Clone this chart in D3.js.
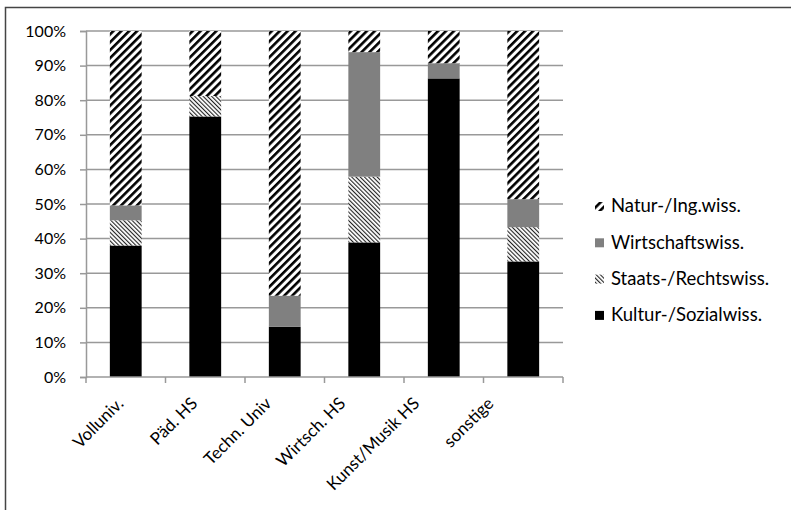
<!DOCTYPE html>
<html>
<head>
<meta charset="utf-8">
<script src="https://cdn.jsdelivr.net/npm/d3@7"></script>
<style>
  body { margin: 0; background: #fff; }
  text { font-family: Lato, "Open Sans", sans-serif; fill: #000; }
</style>
</head>
<body>
<div class="canvas"></div>
<script>
// categories and shares (percent)
const categories = ['Volluniv.', 'Päd. HS', 'Techn. Univ', 'Wirtsch. HS', 'Kunst/Musik HS', 'sonstige'];
const seriesNames = ['Kultur-/Sozialwiss.', 'Staats-/Rechtswiss.', 'Wirtschaftswiss.', 'Natur-/Ing.wiss.'];
const kultur = [38, 75.3, 14.5, 38.9, 86.3, 33.4];
const staats = [7.3, 5.9, 0, 19, 0, 9.9];
const wirtschaft = [4.3, 0, 9, 36, 4.4, 8.1];
const natur = [50.4, 18.8, 76.5, 6.1, 9.3, 48.6];
const yTicks = [0, 10, 20, 30, 40, 50, 60, 70, 80, 90, 100];

const width = 791, height = 510;
const margin = { top: 31, left: 86, right: 228, bottom: 133 };

const svg = d3.select('.canvas')
  .append('svg')
  .attr('width', width)
  .attr('height', height);

// frame (only top and left edges are visible in the picture)
svg.append('path')
  .attr('d', `M5.5,${height} V7.5 H${width}`)
  .attr('fill', 'none')
  .attr('stroke', '#444')
  .attr('stroke-width', 1.5);

const defs = svg.append('defs');
const np = defs.append('pattern')
  .attr('id', 'natur')
  .attr('patternUnits', 'userSpaceOnUse')
  .attr('width', 5.6).attr('height', 10)
  .attr('patternTransform', 'rotate(45)');
np.append('rect').attr('width', 5.6).attr('height', 10).attr('fill', '#fff');
np.append('rect').attr('width', 2.6).attr('height', 10).attr('fill', '#000');

const sp = defs.append('pattern')
  .attr('id', 'staats')
  .attr('patternUnits', 'userSpaceOnUse')
  .attr('width', 3).attr('height', 10)
  .attr('patternTransform', 'rotate(-45)');
sp.append('rect').attr('width', 3).attr('height', 10).attr('fill', '#fff');
sp.append('rect').attr('width', 1.1).attr('height', 10).attr('fill', '#222');

const fills = ['#000', 'url(#staats)', '#808080', 'url(#natur)'];

const rows = categories.map((c, i) => ({
  cat: c,
  [seriesNames[0]]: kultur[i],
  [seriesNames[1]]: staats[i],
  [seriesNames[2]]: wirtschaft[i],
  [seriesNames[3]]: natur[i]
}));
const stacked = d3.stack().keys(seriesNames)(rows);

const x = d3.scaleBand()
  .domain(categories)
  .range([margin.left, width - margin.right])
  .paddingInner(0.6)
  .paddingOuter(0.3);

const xb = d3.scaleBand()
  .domain(categories)
  .range([margin.left, width - margin.right]);

// the rotated labels sit a little tighter than the categories
const xl = d3.scalePoint()
  .domain(categories)
  .range([116, 486]);

const y = d3.scaleLinear()
  .domain([0, 100])
  .range([height - margin.bottom, margin.top]);

// y axis with tick stubs
const yAxis = svg.append('g')
  .attr('transform', `translate(${margin.left},0)`)
  .call(d3.axisLeft(y).tickValues(yTicks).tickSize(6).tickFormat(d => d + '%'));
yAxis.select('.domain').attr('stroke', '#999').attr('stroke-width', 1.5);
yAxis.selectAll('.tick line').attr('stroke', '#999').attr('stroke-width', 1.5);
yAxis.selectAll('.tick text')
  .attr('x', -20)
  .style('font-size', '16px')
  .attr('fill', '#000');

// gridlines
svg.append('g')
  .selectAll('line')
  .data(yTicks.filter(d => d > 0))
  .join('line')
  .attr('x1', margin.left).attr('x2', width - margin.right)
  .attr('y1', d => y(d)).attr('y2', d => y(d))
  .attr('stroke', '#999').attr('stroke-width', 1.5);

// bars
svg.append('g')
  .selectAll('g')
  .data(stacked)
  .join('g')
  .attr('fill', (d, i) => fills[i])
  .selectAll('rect')
  .data(d => d)
  .join('rect')
  .attr('x', d => x(d.data.cat))
  .attr('width', x.bandwidth())
  .attr('y', d => y(d[1]))
  .attr('height', d => y(d[0]) - y(d[1]));

// x axis
const xAxisG = svg.append('g')
  .attr('transform', `translate(0,${y(0)})`);
xAxisG.append('line')
  .attr('x1', margin.left).attr('x2', width - margin.right)
  .attr('stroke', '#999').attr('stroke-width', 1.5);
xAxisG.selectAll('.xtick')
  .data(categories.map(c => xb(c)).concat([width - margin.right]))
  .join('line')
  .attr('x1', d => d).attr('x2', d => d)
  .attr('y1', 0).attr('y2', 6)
  .attr('stroke', '#999').attr('stroke-width', 1.5);
xAxisG.selectAll('text')
  .data(categories)
  .join('text')
  .attr('transform', d => `translate(${xl(d)},19) rotate(-45)`)
  .attr('text-anchor', 'end')
  .attr('dy', '0.71em')
  .style('font-size', '17px')
  .text(d => d);

// legend (reverse order, top = Natur)
const legend = svg.append('g')
  .selectAll('g')
  .data(seriesNames.map((s, i) => ({ s, i })).reverse())
  .join('g')
  .attr('transform', (d, j) => `translate(595,${206 + j * 36.3})`);
legend.append('rect')
  .attr('x', 0).attr('y', -4)
  .attr('width', 9).attr('height', 9)
  .attr('fill', d => fills[d.i]);
legend.append('text')
  .attr('x', 16).attr('y', 0)
  .attr('dy', '0.35em')
  .style('font-size', '18.5px')
  .text(d => d.s);
</script>
</body>
</html>
